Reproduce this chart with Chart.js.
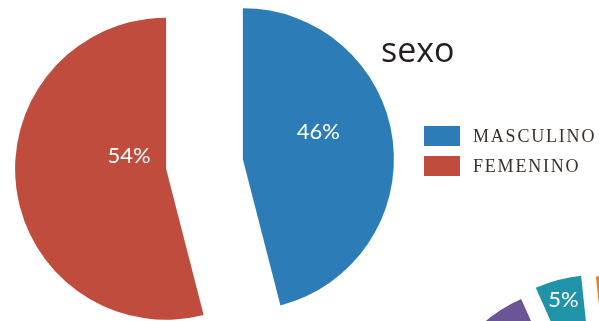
<!DOCTYPE html>
<html>
<head>
<meta charset="utf-8">
<script src="https://cdn.jsdelivr.net/npm/chart.js@4/dist/chart.umd.min.js"></script>
<style>
  html, body { margin: 0; padding: 0; background: #fff; }
  body { width: 599px; height: 321px; position: relative; overflow: hidden; }
  canvas { position: absolute; }
  #title { position: absolute; left: 381px; top: 26px; font: 34px "Open Sans", sans-serif; color: #231f20; }
  .row { position: absolute; left: 424px; height: 20px; }
  .sw { position: absolute; left: 0; top: 0; width: 36px; height: 20px; }
  .lbl { position: absolute; left: 49px; top: 0; line-height: 20px; font: 18px "Liberation Serif", serif; letter-spacing: 1.8px; color: #3b3128; white-space: nowrap; }
</style>
</head>
<body>
<canvas id="other" width="400" height="400" style="left:403px;top:248px"></canvas>
<canvas id="sexoChart" width="599" height="321" style="left:0;top:0"></canvas>
<div id="title">sexo</div>
<div id="legend"></div>
<script>
// ==================== DATA ====================
const categories = ['MASCULINO', 'FEMENINO'];
const percents = [46, 54];
const colors = ['#2c7cb7', '#c04c3e'];

// pie vecino (solo se ve un trozo abajo a la derecha)
const otherValues = [15, 60, 20, 5];
const otherColors = ['#e6821e', '#8a8a8a', '#6b5594', '#1f93a8'];

// ==================== PLUGINS ====================
// separa cada porción del centro (sin agrandar el radio como hace "offset")
const explodePlugin = {
  id: 'explode',
  beforeDatasetsDraw(chart, args, opts) {
    chart.getDatasetMeta(0).data.forEach(arc => {
      if (arc._exploded) return;
      const draw = arc.draw;
      arc.draw = function(ctx, area) {
        const mid = (this.startAngle + this.endAngle) / 2;
        ctx.save();
        ctx.translate(Math.cos(mid) * opts.distance, Math.sin(mid) * opts.distance);
        draw.call(this, ctx, area);
        ctx.restore();
      };
      arc._exploded = true;
    });
  },
  afterDatasetsDraw(chart, args, opts) {
    const ctx = chart.ctx;
    const meta = chart.getDatasetMeta(0);
    const values = chart.data.datasets[0].data;
    ctx.save();
    ctx.fillStyle = '#fff';
    ctx.font = opts.font;
    ctx.textAlign = 'center';
    ctx.textBaseline = 'middle';
    meta.data.forEach((arc, i) => {
      const place = opts.places[i];
      if (!place) return;
      const mid = (arc.startAngle + arc.endAngle) / 2;
      const cx = arc.x + Math.cos(mid) * opts.distance;
      const cy = arc.y + Math.sin(mid) * opts.distance;
      const a = mid + place[1] * Math.PI / 180;
      const r = arc.outerRadius * place[0];
      ctx.fillText(values[i] + '%', cx + Math.cos(a) * r, cy + Math.sin(a) * r);
    });
    ctx.restore();
  }
};

// ==================== MAIN CHART ====================
new Chart(document.getElementById('sexoChart'), {
  type: 'pie',
  data: {
    labels: categories,
    datasets: [{
      data: percents,
      backgroundColor: colors,
      borderWidth: 0,
      clip: false
    }]
  },
  options: {
    responsive: false,
    animation: false,
    radius: 151,
    layout: { padding: { left: 0, right: 190, top: 7, bottom: 0 } },
    plugins: {
      legend: { display: false },
      tooltip: { enabled: false },
      explode: {
        distance: 38.7,
        font: '22px Lato, sans-serif',
        places: [[0.53, -12.4], [0.26, 26.6]]
      }
    }
  },
  plugins: [explodePlugin]
});

// ==================== OTHER CHART (fragment) ====================
new Chart(document.getElementById('other'), {
  type: 'pie',
  data: {
    labels: otherValues.map((v, i) => 'p' + i),
    datasets: [{
      data: otherValues,
      backgroundColor: otherColors,
      borderWidth: 0,
      clip: false
    }]
  },
  options: {
    responsive: false,
    animation: false,
    radius: 150,
    rotation: -6,
    layout: { padding: 50 },
    plugins: {
      legend: { display: false },
      tooltip: { enabled: false },
      explode: {
        distance: 24,
        font: '22px Lato, sans-serif',
        places: [null, null, null, [0.86, 0]]
      }
    }
  },
  plugins: [explodePlugin]
});

// ==================== LEGEND ====================
const legend = document.getElementById('legend');
categories.forEach((name, i) => {
  const row = document.createElement('div');
  row.className = 'row';
  row.style.top = (126 + i * 30) + 'px';
  row.innerHTML = `<div class="sw" style="background:${colors[i]}"></div><span class="lbl">${name}</span>`;
  legend.appendChild(row);
});
</script>
</body>
</html>
